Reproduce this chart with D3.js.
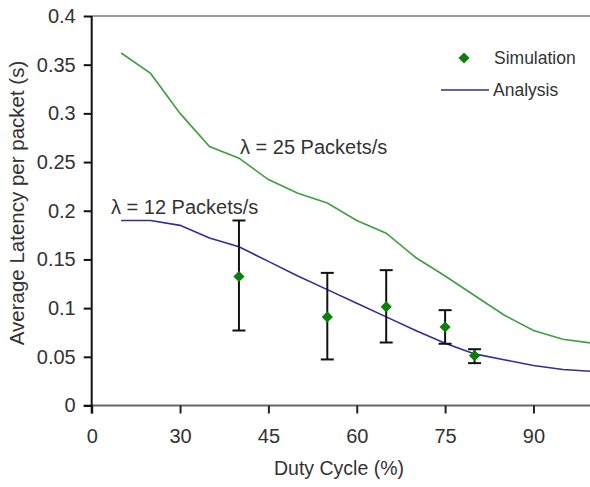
<!DOCTYPE html>
<html><head><meta charset="utf-8">
<script src="https://cdn.jsdelivr.net/npm/d3@7"></script>
<style>
html,body{margin:0;padding:0;background:#fff;}
svg{display:block;}
text{font-family:"Liberation Sans",Arial,sans-serif;fill:#333;}
</style></head>
<body>
<svg id="chart" width="590" height="487"></svg>
<script>
// ---- data ----
const xTickValues = [15, 30, 45, 60, 75, 90];
const xTickLabels = ["0", "30", "45", "60", "75", "90"];
const yTickValues = [0, 0.05, 0.1, 0.15, 0.2, 0.25, 0.3, 0.35, 0.4];
const dutyCycle = [20, 25, 30, 35, 40, 45, 50, 55, 60, 65, 70, 75, 80, 85, 90, 95, 100];
const analysis25 = [0.362, 0.341, 0.300, 0.266, 0.254, 0.232, 0.218, 0.208, 0.190, 0.177, 0.152, 0.133, 0.113, 0.093, 0.077, 0.068, 0.064];
const analysis12 = [0.190, 0.190, 0.185, 0.172, 0.163, 0.148, 0.133, 0.119, 0.105, 0.091, 0.077, 0.064, 0.053, 0.047, 0.041, 0.037, 0.035];
const simDuty = [40, 55, 65, 75, 80];
const simMean = [0.1325, 0.091, 0.1013, 0.0806, 0.0512];
const simHigh = [0.190, 0.1362, 0.139, 0.0979, 0.0578];
const simLow = [0.077, 0.0473, 0.0647, 0.0634, 0.0435];
const labels = ["λ = 25 Packets/s", "λ = 12 Packets/s"];

(function () {
// ---- layout ----
const svg = d3.select("#chart");
const pLeft = 91.7, pBottom = 405.5, pTop = 16;
const x = d3.scaleLinear().domain([15, 100]).range([pLeft, pLeft + 85 * 5.89]);
const y = d3.scaleLinear().domain([0, 0.4]).range([pBottom, pTop]);
const fs = 20;

// top border
svg.append("line").attr("x1", pLeft).attr("x2", 590).attr("y1", y(0.4)).attr("y2", y(0.4))
  .attr("stroke", "#9a9a9a").attr("stroke-width", 2);

// x axis
const xAxis = svg.append("g").attr("transform", `translate(0,${pBottom})`)
  .call(d3.axisBottom(x).tickValues(xTickValues).tickFormat((d, i) => xTickLabels[i]).tickSize(8).tickSizeOuter(0).tickPadding(15));
xAxis.select(".domain").attr("stroke", "#666").attr("stroke-width", 2).attr("d", `M${pLeft - 8},0H590`);
xAxis.selectAll(".tick line").attr("stroke", "#222").attr("stroke-width", 2);
xAxis.selectAll("text").attr("font-size", fs).attr("fill", "#333").style("font-family", "Liberation Sans, Arial, sans-serif");

// y axis
const yAxis = svg.append("g").attr("transform", `translate(${pLeft},0)`)
  .call(d3.axisLeft(y).tickValues(yTickValues).tickFormat(d => String(+d.toFixed(2))).tickSize(8).tickSizeOuter(0).tickPadding(8));
yAxis.select(".domain").attr("stroke", "#111").attr("stroke-width", 2).attr("d", `M0,${pTop}V${pBottom + 8}`);
yAxis.selectAll(".tick line").attr("stroke", "#111").attr("stroke-width", 2);
yAxis.selectAll("text").attr("font-size", fs).attr("fill", "#333").style("font-family", "Liberation Sans, Arial, sans-serif");

// axis titles
svg.append("text").attr("x", 339).attr("y", 475).attr("text-anchor", "middle")
  .attr("font-size", 19.5).text("Duty Cycle (%)");
svg.append("text").attr("transform", "translate(24,203) rotate(-90)").attr("text-anchor", "middle")
  .attr("font-size", 20.5).text("Average Latency per packet (s)");

// lines
const line = d3.line().x((d, i) => x(dutyCycle[i])).y(d => y(d));
svg.append("path").datum(analysis25).attr("d", line).attr("fill", "none")
  .attr("stroke", "#3f9e3f").attr("stroke-width", 1.6);
svg.append("path").datum(analysis12).attr("d", line).attr("fill", "none")
  .attr("stroke", "#2e2e96").attr("stroke-width", 1.6);

// error bars
const eb = svg.append("g").attr("stroke", "#111").attr("stroke-width", 2);
simDuty.forEach((d, i) => {
  eb.append("line").attr("x1", x(d)).attr("x2", x(d)).attr("y1", y(simHigh[i])).attr("y2", y(simLow[i]));
  eb.append("line").attr("x1", x(d) - 6.5).attr("x2", x(d) + 6.5).attr("y1", y(simHigh[i])).attr("y2", y(simHigh[i]));
  eb.append("line").attr("x1", x(d) - 6.5).attr("x2", x(d) + 6.5).attr("y1", y(simLow[i])).attr("y2", y(simLow[i]));
});
const diamond = d3.symbol().type(d3.symbolSquare).size(62);
svg.append("g").selectAll("path").data(simMean).join("path")
  .attr("d", diamond)
  .attr("transform", (d, i) => `translate(${x(simDuty[i])},${y(d)}) rotate(45)`)
  .attr("fill", "#0a800a");

// annotations
svg.append("text").attr("x", 240).attr("y", 154).attr("font-size", fs).text(labels[0]);
svg.append("text").attr("x", 111).attr("y", 214).attr("font-size", fs).text(labels[1]);

// legend
svg.append("path").attr("d", diamond).attr("transform", "translate(464,58) rotate(45)").attr("fill", "#0a800a");
svg.append("text").attr("x", 494).attr("y", 64).attr("font-size", 17.5).text("Simulation");
svg.append("line").attr("x1", 441).attr("x2", 489).attr("y1", 90).attr("y2", 90)
  .attr("stroke", "#2e2e96").attr("stroke-width", 1.6);
svg.append("text").attr("x", 493).attr("y", 96).attr("font-size", 17.5).text("Analysis");
})();
</script>
</body></html>
